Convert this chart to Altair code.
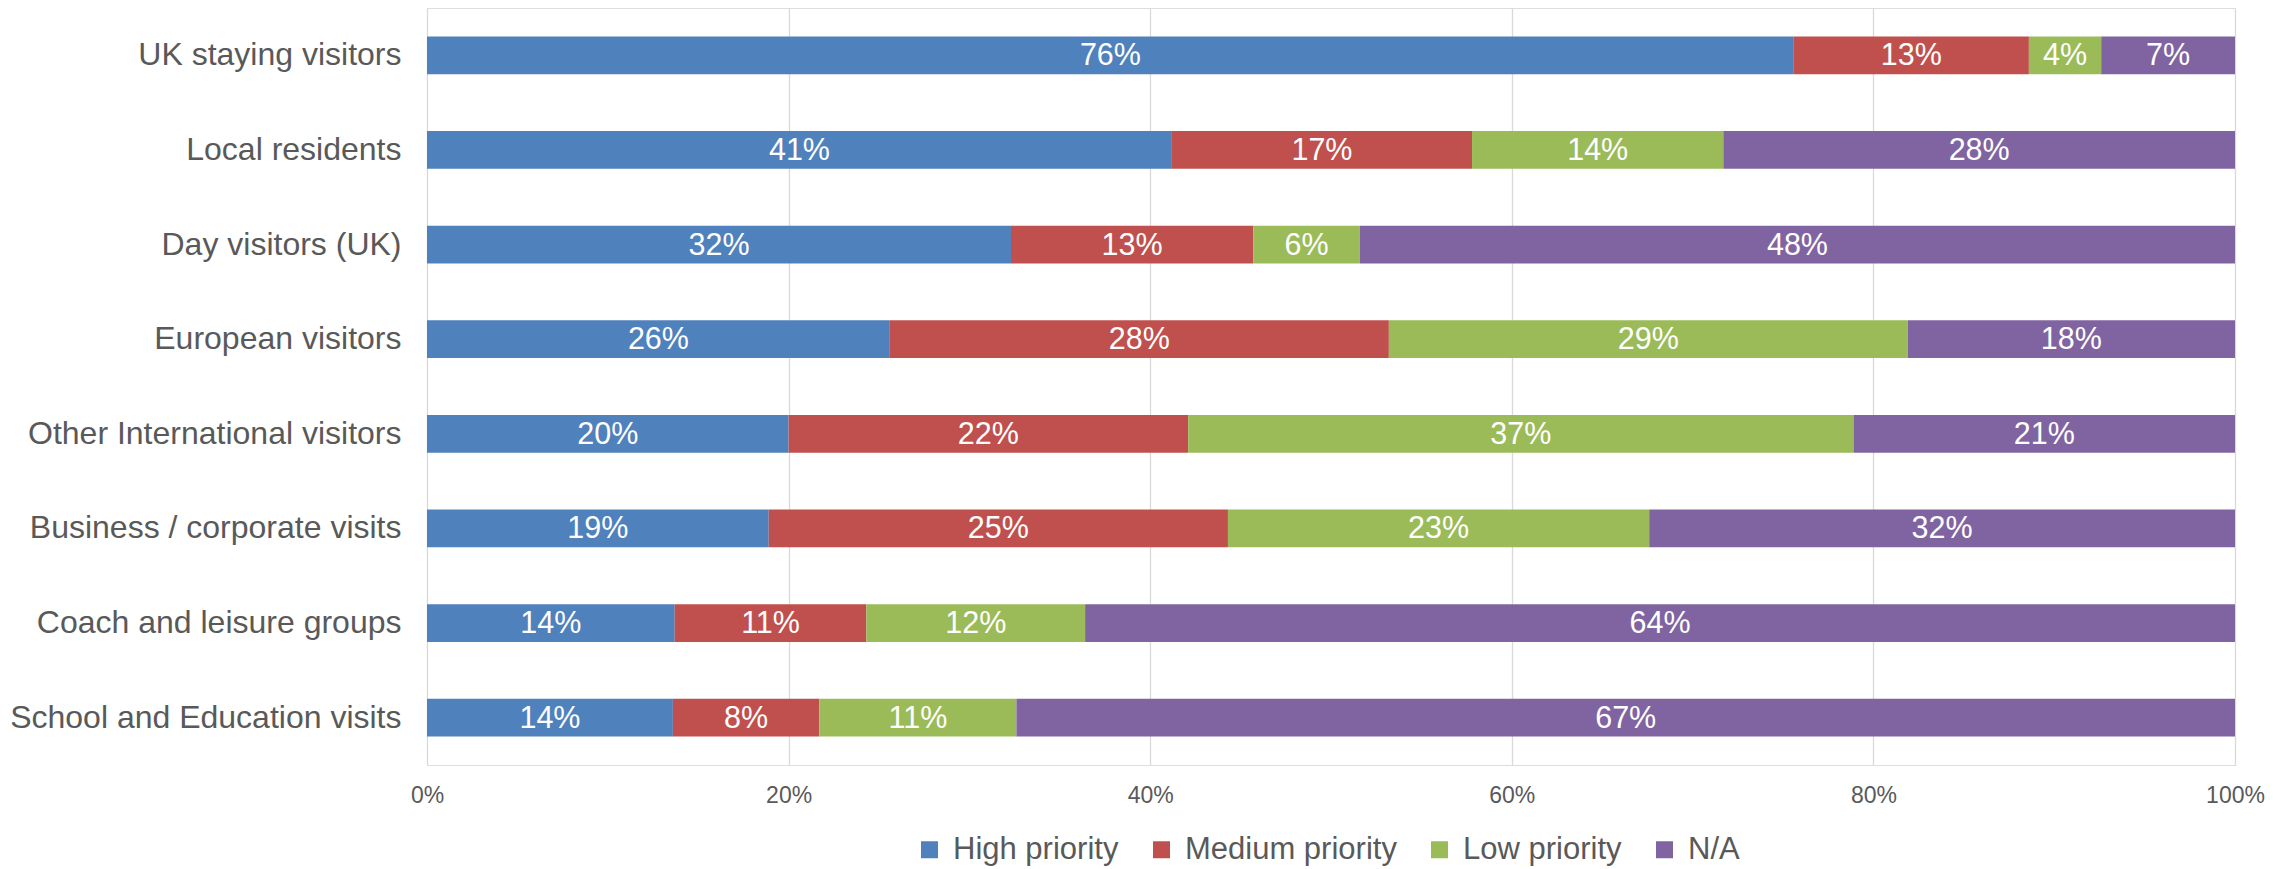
import altair as alt
import pandas as pd

categories = [
    "UK staying visitors",
    "Local residents",
    "Day visitors (UK)",
    "European visitors",
    "Other International visitors",
    "Business / corporate visits",
    "Coach and leisure groups",
    "School and Education visits",
]
series = ["High priority", "Medium priority", "Low priority", "N/A"]
high = [75.6, 41.2, 32.3, 25.6, 20.0, 18.9, 13.7, 13.6]
medium = [13.0, 16.6, 13.4, 27.6, 22.1, 25.4, 10.6, 8.1]
low = [4.0, 13.9, 5.9, 28.7, 36.8, 23.3, 12.1, 10.9]
na = [7.4, 28.3, 48.4, 18.1, 21.1, 32.4, 63.6, 67.4]
colors = ["#4F81BD", "#C0504D", "#9BBB59", "#8064A2"]
tick_values = [0, 0.2, 0.4, 0.6, 0.8, 1.0]

rows = []
for i, cat in enumerate(categories):
    start = 0.0
    for s, vals in zip(series, [high, medium, low, na]):
        v = vals[i]
        rows.append({
            "category": cat,
            "series": s,
            "start": start / 100,
            "end": (start + v) / 100,
            "mid": (start + v / 2) / 100,
            "label": f"{round(v)}%",
        })
        start += v
df = pd.DataFrame(rows)

FONT = "Arial, Liberation Sans, sans-serif"
GREY = "#595959"

y_enc = alt.Y(
    "category:N",
    sort=categories,
    scale=alt.Scale(paddingInner=0.6, paddingOuter=0.3),
    axis=alt.Axis(
        title=None, domain=False, ticks=False, grid=False,
        labelFontSize=32, labelColor=GREY, labelFont=FONT,
        labelPadding=26, labelLimit=600,
    ),
)

bars = alt.Chart(df).mark_bar().encode(
    x=alt.X(
        "start:Q",
        scale=alt.Scale(domain=[0, 1], nice=False),
        axis=alt.Axis(
            title=None, values=tick_values, format=".0%", domain=False,
            ticks=False, grid=True, gridColor="#D9D9D9", gridWidth=1.3,
            labelFontSize=23, labelColor=GREY, labelFont=FONT,
            labelPadding=30, labelBaseline="middle", labelFlush=False,
        ),
    ),
    x2="end:Q",
    y=y_enc,
    color=alt.Color(
        "series:N",
        scale=alt.Scale(domain=series, range=colors),
        legend=alt.Legend(
            title=None, orient="none", direction="horizontal",
            legendX=487, legendY=826, symbolType="square", symbolSize=289,
            symbolStrokeWidth=0, labelFontSize=31, labelColor=GREY,
            labelFont=FONT, labelOffset=8, columnPadding=27, padding=0,
            labelLimit=400,
        ),
    ),
)

texts = alt.Chart(df).mark_text(
    color="white", fontSize=30.5, font=FONT, align="center", baseline="middle", dy=1
).encode(
    x="mid:Q",
    y=alt.Y("category:N", sort=categories),
    text="label:N",
)

chart = (
    alt.layer(bars, texts)
    .properties(
        width=1808,
        height=757,
        autosize=alt.AutoSizeParams(type="none"),
        padding={"left": 419, "top": 0, "right": 36, "bottom": 104},
    )
    .configure_view(stroke=None)
    .configure(background="white")
)

chart.save("out.html", embed_options={"renderer": "svg", "actions": False})
